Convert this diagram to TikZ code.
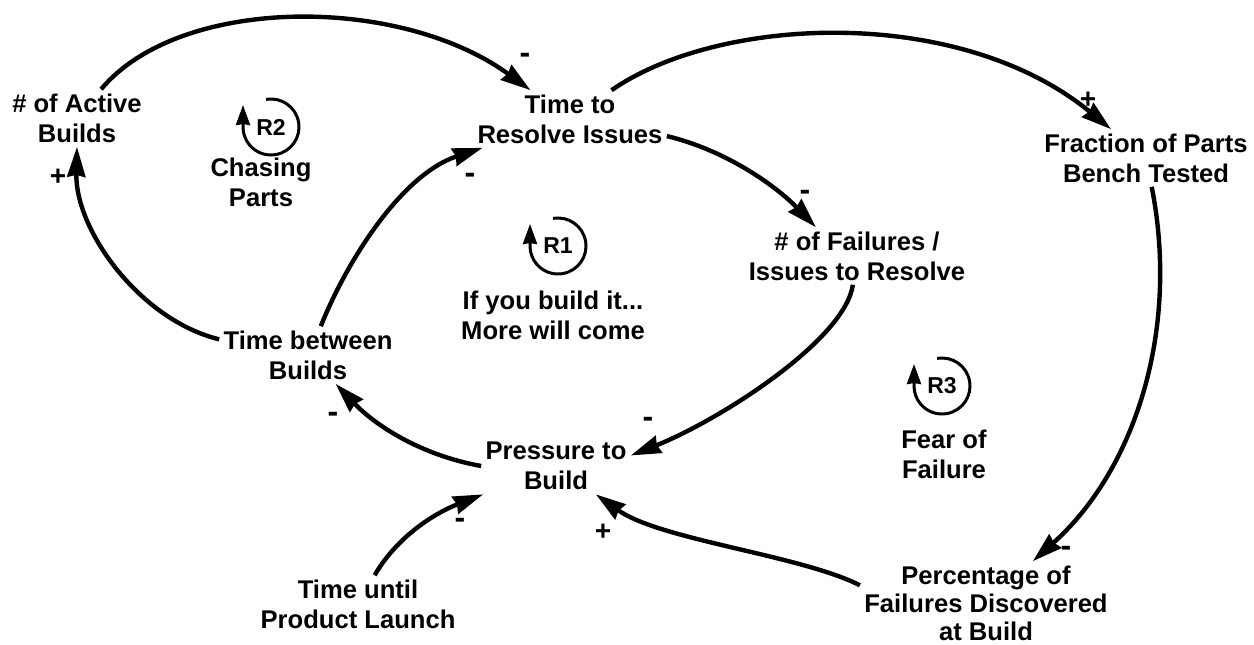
\documentclass[tikz,border=0pt]{standalone}
\usepackage{fontspec}
\setmainfont{Liberation Sans}
\usetikzlibrary{arrows.meta}
\newcommand\loopmarker[3]{%
  % #1 centre, #2 loop tag, #3 node name
  \draw[loopring] #1 ++(-100:28) arc[start angle=-100, end angle=180, radius=28] -- ++(0,-22);
  \node[looptag] (#3) at #1 {#2};
}
\begin{document}
\begin{tikzpicture}[x=0.5pt, y=-0.5pt,
  var/.style={font=\bfseries\fontsize{12.8}{15}\selectfont, align=center, inner sep=2pt},
  link/.style={line width=2.2pt, -{Stealth[length=15pt, width=9pt, inset=1pt]}},
  minus/.style={font=\bfseries\fontsize{16}{16}\selectfont, inner sep=0pt},
  plus/.style={font=\bfseries\fontsize{14}{14}\selectfont, inner sep=0pt},
  loopring/.style={line width=1.5pt, -{Stealth[length=10pt, width=7pt, inset=0.5pt]}},
  looptag/.style={font=\bfseries\fontsize{11.5}{13}\selectfont, inner sep=0pt}]
\useasboundingbox (0,0) rectangle (1254,644);

% variables
\node[var] (ab) at (77,118)  {\# of Active\\Builds};
\node[var] (tr) at (570,119) {Time to\\Resolve Issues};
\node[var] (fp) at (1146,158) {Fraction of Parts\\Bench Tested};
\node[var] (nf) at (857,256) {\# of Failures /\\Issues to Resolve};
\node[var] (tb) at (308,355) {Time between\\Builds};
\node[var] (pb) at (556,466) {Pressure to\\Build};
\node[var] (tu) at (358,604) {Time until\\Product Launch};
\node[var, font=\bfseries\fontsize{12.8}{14}\selectfont] (pf) at (986,603)
  {Percentage of\\Failures Discovered\\at Build};

% loop markers and names
\loopmarker{(271,127)}{R2}{r2}
\node[var] (r2name) at (261,182) {Chasing\\Parts};
\loopmarker{(558,246)}{R1}{r1}
\node[var] (r1name) at (553,315) {If you build it...\\More will come};
\loopmarker{(942,386)}{R3}{r3}
\node[var] (r3name) at (944,454) {Fear of\\Failure};

% causal links
\draw[link] (ab) .. controls (180,-5) and (400,-5) .. (tr);
\draw[link] (tr) .. controls (720,15) and (960,5) .. (fp);
\draw[link] (tr.-10) .. controls (725,150) and (775,185) .. (nf.145);
\draw[link] (nf) .. controls (845,340) and (720,420) .. (pb.8);
\draw[link] (pb.west) .. controls (420,455) and (375,425) .. (tb);
\draw[link] (tb.170) .. controls (140,320) and (75,230) .. (ab.south);
\draw[link] (tb.66) .. controls (345,265) and (400,175) .. (tr);
\draw[link] (fp) .. controls (1180,330) and (1135,470) .. (pf);
\draw[link] (pf.172) .. controls (800,555) and (660,540) .. (pb);
\draw[link] (tu) .. controls (395,540) and (430,515) .. (pb);

% polarities
\node[minus] at (525,58)  {-};
\node[plus]  at (1088,100) {+};
\node[minus] at (805,195) {-};
\node[minus] at (648,422) {-};
\node[minus] at (333,417) {-};
\node[plus]  at (58,177)  {+};
\node[minus] at (470,178) {-};
\node[minus] at (1066,551) {-};
\node[plus]  at (603,532) {+};
\node[minus] at (460,523) {-};
\end{tikzpicture}
\end{document}
